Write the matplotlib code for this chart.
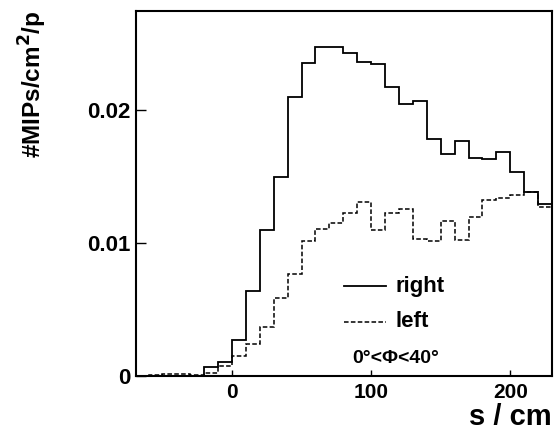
import matplotlib
matplotlib.use("Agg")
import matplotlib.pyplot as plt
import numpy as np

plt.rcParams['font.family'] = ['Liberation Sans', 'DejaVu Sans']
plt.rcParams['font.weight'] = 'bold'

# bin edges (s / cm)
edges = np.arange(-70, 231, 10)

# "right" series (solid)
right = [0.00002, 0.00002, 0.00003, 0.00003, 0.00003,
         0.00065, 0.00105, 0.0027, 0.0064, 0.0110,
         0.0150, 0.02095, 0.02356, 0.02471, 0.02471,
         0.02431, 0.02361, 0.02343, 0.02171, 0.02045,
         0.0207, 0.01782, 0.01669, 0.01767, 0.01641,
         0.01634, 0.01686, 0.01531, 0.01386, 0.01293]

# "left" series (dashed)
left = [0.00002, 0.00005, 0.00012, 0.00012, 0.00004,
        0.00025, 0.00078, 0.0015, 0.0024, 0.0037,
        0.0059, 0.00765, 0.01015, 0.01108, 0.01153,
        0.01228, 0.01308, 0.01098, 0.01228, 0.01253,
        0.01028, 0.01017, 0.01165, 0.01023, 0.01193,
        0.01323, 0.01336, 0.01363, 0.01386, 0.01268]

xticks = [0, 100, 200]
yticks = [0, 0.01, 0.02]
yticklabels = ["0", "0.01", "0.02"]

fig = plt.figure(figsize=(5.56, 4.30), dpi=100)
ax = fig.add_axes([0.2446, 0.1256, 0.9928 - 0.2446, 0.9751 - 0.1256])

ax.stairs(right, edges, color='black', lw=1.3, linestyle='-')
ax.stairs(left, edges, color='black', lw=1.1, linestyle=(0, (3, 1.5)))

ax.set_xlim(-69, 230)
ax.set_ylim(0, 0.02747)
ax.set_xticks(xticks)
ax.set_xticklabels([str(t) for t in xticks])
ax.set_yticks(yticks)
ax.set_yticklabels(yticklabels)
ax.tick_params(axis='y', direction='in', length=7, width=1, labelsize=16, pad=4)
ax.tick_params(axis='x', direction='in', length=4, width=1, labelsize=15, pad=5)
for lbl in ax.get_xticklabels() + ax.get_yticklabels():
    lbl.set_fontweight('bold')
for s in ax.spines.values():
    s.set_linewidth(1.5)

# legend drawn in axes coordinates
ax.plot([0.50, 0.60], [0.246, 0.246], transform=ax.transAxes, color='black', lw=1.3)
ax.text(0.623, 0.246, "right", transform=ax.transAxes, fontsize=16, fontweight='bold', va='center')
ax.plot([0.50, 0.60], [0.148, 0.148], transform=ax.transAxes, color='black', lw=1.1, linestyle=(0, (3, 1.5)))
ax.text(0.623, 0.148, "left", transform=ax.transAxes, fontsize=16, fontweight='bold', va='center')
ax.text(0.521, 0.049, "0°<Φ<40°", transform=ax.transAxes, fontsize=14, fontweight='bold', va='center')

fig.text(0.993, 0.012, "s / cm", ha='right', va='baseline', fontsize=21, fontweight='bold')
fig.text(0.06, 0.975, "#MIPs/cm$^{\\mathbf{2}}$/p", rotation=90, ha='center', va='top', fontsize=17.5, fontweight='bold')

fig.savefig("out.png", dpi=100)
